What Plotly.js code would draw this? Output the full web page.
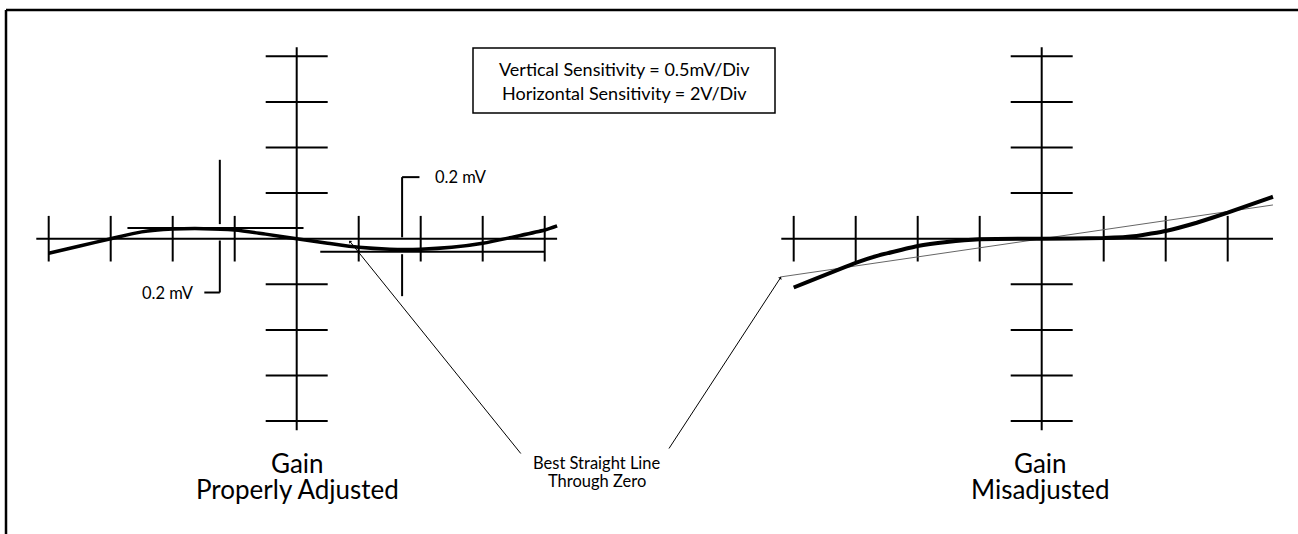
<!DOCTYPE html>
<html><head><meta charset="utf-8">
<script src="https://cdn.plot.ly/plotly-3.0.1.min.js"></script>
<style>html,body{margin:0;padding:0;background:#fff}#chart{width:1298px;height:534px}</style>
</head><body><div id="chart"></div>
<script>
// ---- data (oscilloscope divisions) ----
const gridTicksY = [-4, -3, -2, -1, 1, 2, 3, 4];
const leftTicksX = [-4, -3, -2, -1, 1, 2, 3, 4];
const rightTicksX = [-4, -3, -2, -1, 1, 2, 3];

// Gain properly adjusted
const properX = [-4, -3.5, -3, -2.5, -2, -1.5, -1, -0.5, 0, 0.5, 1, 1.5, 2, 2.5, 3, 3.5, 4, 4.2];
const properY = [-0.32, -0.16, 0, 0.15, 0.21, 0.22, 0.19, 0.1, 0, -0.1, -0.19, -0.23, -0.23, -0.19, -0.1, 0.04, 0.19, 0.28];

// Gain misadjusted
const misX = [-4, -3, -2.64, -2, -1.53, -1, 0, 1, 1.53, 2, 2.5, 3, 3.73];
const misY = [-1.07, -0.53, -0.37, -0.16, -0.07, -0.01, 0, 0.015, 0.06, 0.17, 0.35, 0.57, 0.92];

// Best straight line through zero (misadjusted panel)
const bestX = [-4.22, 0, 3.73];
const bestY = [-0.84, 0, 0.74];

// 0.2 mV band lines (properly adjusted panel)
const bandUpperX = [-2.73, 0.11];
const bandUpperY = [0.235, 0.235];
const bandLowerX = [0.38, 3.99];
const bandLowerY = [-0.285, -0.285];

// ---- geometry ----
const W = 1298, H = 534;
const divX = 62, divY = 45.6;
const origLeft = 296.7, origRight = 1041.7, origY = 238.7;
const ext = 4.2;

function crosshair(xmin, xmax, ticksX, xa) {
  const x = [], y = [];
  function seg(x0, y0, x1, y1) { x.push(x0, x1, null); y.push(y0, y1, null); }
  seg(xmin, 0, xmax, 0);
  seg(0, -ext, 0, ext);
  ticksX.forEach(t => seg(t, -0.5, t, 0.5));
  gridTicksY.forEach(t => seg(-0.5, t, 0.5, t));
  return {x, y, xaxis: xa, yaxis: 'y', mode: 'lines', line: {color: '#000', width: 2}, hoverinfo: 'skip'};
}

function segs(list, xa, color, width) {
  const x = [], y = [];
  list.forEach(s => { x.push(s[0], s[2], null); y.push(s[1], s[3], null); });
  return {x, y, xaxis: xa, yaxis: 'y', mode: 'lines', line: {color, width}, hoverinfo: 'skip'};
}

const traces = [
  crosshair(-ext, ext, leftTicksX, 'x'),
  crosshair(-ext, 3.73, rightTicksX, 'x2'),
  {x: bandUpperX, y: bandUpperY, xaxis: 'x', yaxis: 'y', mode: 'lines', line: {color: '#000', width: 2}},
  {x: bandLowerX, y: bandLowerY, xaxis: 'x', yaxis: 'y', mode: 'lines', line: {color: '#000', width: 2}},
  segs([
    [-1.24, 1.73, -1.24, 0.32],
    [-1.24, -0.04, -1.24, -1.18],
    [-1.24, -1.18, -1.49, -1.18],
    [1.70, 0.03, 1.70, 1.35],
    [1.70, 1.35, 1.98, 1.35],
    [1.70, -0.34, 1.70, -1.26]
  ], 'x', '#000', 2),
  {x: properX, y: properY, xaxis: 'x', yaxis: 'y', mode: 'lines', line: {color: '#000', width: 3.5, shape: 'spline', smoothing: 0.8}},
  {x: bestX, y: bestY, xaxis: 'x2', yaxis: 'y', mode: 'lines', line: {color: '#666', width: 1}},
  {x: misX, y: misY, xaxis: 'x2', yaxis: 'y', mode: 'lines', line: {color: '#000', width: 4, shape: 'spline', smoothing: 0.3}}
];

const px = v => v / W;
const py = v => 1 - v / H;
const FONT = 'Lato, "Open Sans", sans-serif';

function txt(text, x, y, size, anchor) {
  return {text, x: px(x), y: py(y), xref: 'paper', yref: 'paper', showarrow: false,
    xanchor: anchor || 'center', yanchor: 'middle', font: {family: FONT, size, color: '#000'}};
}

const annotations = [
  txt('Vertical Sensitivity = 0.5mV/Div', 624, 69, 18),
  txt('Horizontal Sensitivity = 2V/Div', 624, 93, 18),
  txt('0.2 mV', 433, 177, 16.5, 'left'),
  txt('0.2 mV', 196, 293, 16.5, 'right'),
  txt('Best Straight Line', 597, 463, 16.5),
  txt('Through Zero', 597, 481, 16.5),
  txt('Gain', 297, 463, 26),
  txt('Properly Adjusted', 297, 489, 26),
  txt('Gain', 1040, 463, 26),
  txt('Misadjusted', 1040, 489, 26),
  {x: px(349.3), y: py(240.7), xref: 'paper', yref: 'paper', ax: 172.7, ay: 214.3, axref: 'pixel', ayref: 'pixel',
   showarrow: true, arrowhead: 1, arrowsize: 0.7, arrowwidth: 1, arrowcolor: '#000', text: ''},
  {x: px(781), y: py(277), xref: 'paper', yref: 'paper', ax: -113, ay: 173, axref: 'pixel', ayref: 'pixel',
   showarrow: true, arrowhead: 1, arrowsize: 0.7, arrowwidth: 1, arrowcolor: '#000', text: ''}
];

const shapes = [
  {type: 'line', xref: 'paper', yref: 'paper', x0: px(6), y0: py(10), x1: px(W), y1: py(10), line: {color: '#000', width: 2.5}},
  {type: 'line', xref: 'paper', yref: 'paper', x0: px(6), y0: py(10), x1: px(6), y1: py(H), line: {color: '#000', width: 2.5}},
  {type: 'rect', xref: 'paper', yref: 'paper', x0: px(473), y0: py(48), x1: px(775), y1: py(113), line: {color: '#000', width: 1.5}}
];

const half = W / 2;
const layout = {
  width: W, height: H,
  margin: {l: 0, r: 0, t: 0, b: 0, pad: 0},
  paper_bgcolor: '#fff', plot_bgcolor: '#fff',
  showlegend: false,
  xaxis: {domain: [0, 0.5], range: [(0 - origLeft) / divX, (half - origLeft) / divX], visible: false, fixedrange: true},
  xaxis2: {domain: [0.5, 1], range: [(half - origRight) / divX, (W - origRight) / divX], visible: false, fixedrange: true, anchor: 'y'},
  yaxis: {domain: [0, 1], range: [(origY - H) / divY, origY / divY], visible: false, fixedrange: true},
  annotations, shapes
};

Plotly.newPlot('chart', traces, layout, {staticPlot: true, displayModeBar: false});
</script>
</body></html>
